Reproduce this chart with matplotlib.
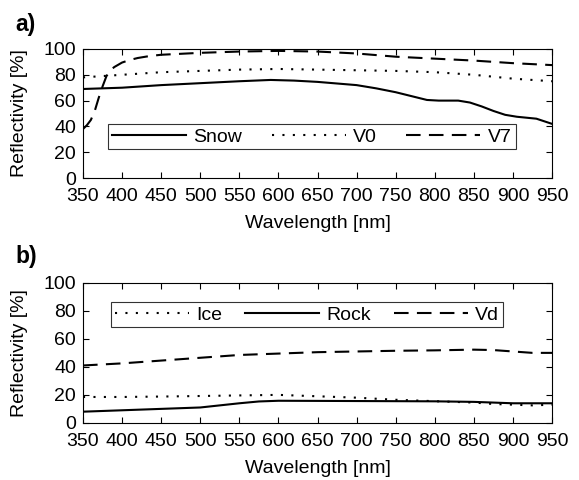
import matplotlib
matplotlib.use('Agg')
import matplotlib.pyplot as plt
import numpy as np

plt.rcParams['font.family'] = ['Liberation Sans', 'DejaVu Sans']
plt.rcParams['font.size'] = 14

# panel a
wl_snow = [350, 375, 400, 425, 450, 500, 550, 590, 620, 650, 680, 700, 725, 750, 770, 790, 805, 830, 845, 860, 875, 890, 905, 930, 950]
snow = [69, 69.5, 70, 71, 72, 73.5, 75, 76, 75.5, 74.5, 73, 72, 69.5, 66.5, 63.5, 60.5, 60, 60, 58.5, 55.5, 52, 49, 47.5, 46, 42]
wl_v0 = [350, 400, 450, 500, 550, 600, 650, 700, 750, 800, 850, 900, 950]
v0 = [78, 80, 82, 83, 84, 84.5, 84, 83.5, 83, 82, 80, 77, 75]
wl_v7 = [350, 355, 360, 365, 370, 375, 380, 385, 390, 400, 410, 420, 435, 450, 500, 550, 600, 650, 700, 750, 800, 850, 900, 950]
v7 = [38, 41, 45, 52, 62, 71, 79, 83.5, 86, 89.5, 91.5, 93, 94.5, 95.5, 97, 98, 98.5, 98, 96.5, 94, 92.5, 91, 89, 87.5]

# panel b
wl_b = [350, 400, 450, 500, 525, 550, 575, 600, 650, 700, 750, 800, 850, 875, 900, 925, 950]
ice = [18.5, 18.5, 18.8, 19.2, 19.4, 19.6, 19.8, 20, 19, 18, 16.5, 15.5, 14.5, 13.5, 13, 12.5, 13]
rock = [8, 9, 10, 11, 12.5, 14, 15.3, 15.8, 15.7, 15.6, 15.5, 15.4, 15, 14.5, 14, 14, 14]
vd = [41, 42.5, 44.5, 46.5, 47.5, 48.5, 49, 49.5, 50.5, 51, 51.5, 51.8, 52.3, 52, 51, 50, 50]

xticks = list(range(350, 951, 50))
yticks = [0, 20, 40, 60, 80, 100]

fig = plt.figure(figsize=(5.79, 4.8), dpi=100)
ax1 = fig.add_axes([0.1434, 0.629, 0.810, 0.269])
ax2 = fig.add_axes([0.1434, 0.119, 0.810, 0.2917])

lw = 1.5
ax1.plot(wl_snow, snow, 'k-', lw=lw, label='Snow')
ax1.plot(wl_v0, v0, 'k', ls=(0, (1, 4)), lw=lw, label='V0')
ax1.plot(wl_v7, v7, 'k', ls=(0, (7, 4)), lw=lw, label='V7')

ax2.plot(wl_b, ice, 'k', ls=(0, (1, 4)), lw=lw, label='Ice')
ax2.plot(wl_b, rock, 'k-', lw=lw, label='Rock')
ax2.plot(wl_b, vd, 'k', ls=(0, (7, 4)), lw=lw, label='Vd')

for ax in (ax1, ax2):
    ax.set_xlim(350, 950)
    ax.set_ylim(0, 100)
    ax.set_xticks(xticks)
    ax.set_yticks(yticks)
    ax.tick_params(direction='in', top=True, right=True, length=4, width=0.8)
    ax.tick_params(axis='x', pad=7)
    ax.tick_params(axis='y', pad=5)
    ax.set_xlabel('Wavelength [nm]')
    ax.set_ylabel('Reflectivity [%]')
    ax.yaxis.set_label_coords(-0.117, 0.5)
    for s in ax.spines.values():
        s.set_linewidth(0.8)

ax1.xaxis.set_label_coords(0.5, -0.287)
ax2.xaxis.set_label_coords(0.5, -0.264)

leg1 = ax1.legend(loc='center', bbox_to_anchor=(0.488, 0.32), ncol=3, frameon=True,
                  fancybox=False, edgecolor='k', handlelength=3.8, columnspacing=1.5,
                  handletextpad=0.4, borderpad=0.2, borderaxespad=0)
leg1.get_frame().set_linewidth(0.8)
leg2 = ax2.legend(loc='center', bbox_to_anchor=(0.478, 0.772), ncol=3, frameon=True,
                  fancybox=False, edgecolor='k', handlelength=3.8, columnspacing=1.15,
                  handletextpad=0.4, borderpad=0.2, borderaxespad=0)
leg2.get_frame().set_linewidth(0.8)

fig.text(0.026, 0.95, 'a)', fontsize=16.5, fontweight='bold', va='center')
fig.text(0.026, 0.465, 'b)', fontsize=16.5, fontweight='bold', va='center')

fig.savefig('out.png', dpi=100)
